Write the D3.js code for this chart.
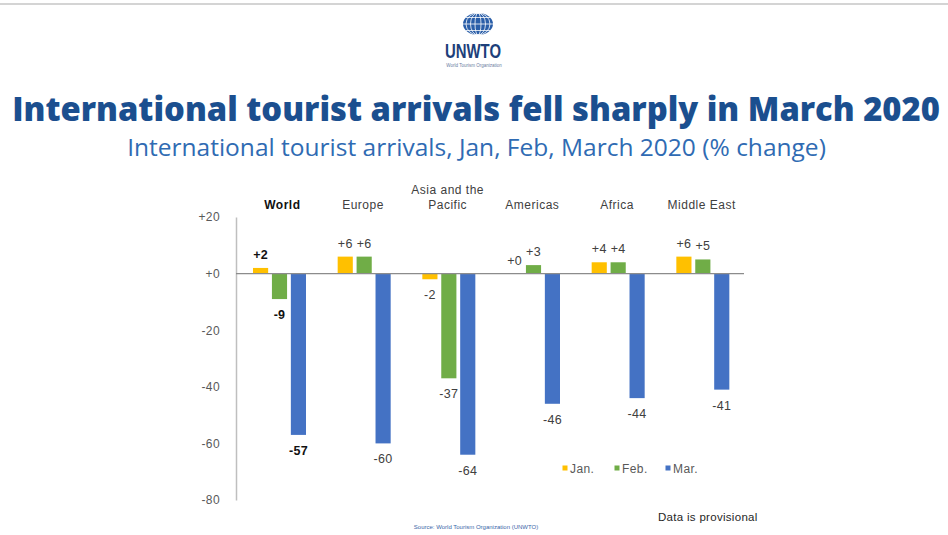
<!DOCTYPE html>
<html>
<head>
<meta charset="utf-8">
<script src="https://cdn.jsdelivr.net/npm/d3@7"></script>
<style>
  html, body { margin: 0; padding: 0; background: #fff; }
  svg { display: block; }
</style>
</head>
<body>
<svg id="chart" width="948" height="535"></svg>
<script>
// Regions and months
const regions = ["World", "Europe", "Asia and the Pacific", "Americas", "Africa", "Middle East"];
const regionLines = [["World"], ["Europe"], ["Asia and the", "Pacific"], ["Americas"], ["Africa"], ["Middle East"]];
const months = ["Jan.", "Feb.", "Mar."];
const monthColors = ["#FFC000", "#70AD47", "#4472C4"];

// % change in international tourist arrivals, 2020
const janValues = [2, 6, -2, 0, 4, 6];
const febValues = [-9, 6, -37, 3, 4, 5];
const marValues = [-57, -60, -64, -46, -44, -41];

const yTicks = [20, 0, -20, -40, -60, -80];

const seriesValues = [janValues, febValues, marValues];
const rows = [];
regions.forEach((r, i) => {
  months.forEach((m, j) => rows.push({ region: r, month: m, value: seriesValues[j][i], idx: i, series: j }));
});

const svg = d3.select("#chart");
const W = 948;

// thin border line at the top
svg.append("line").attr("x1", 0).attr("x2", W).attr("y1", 4).attr("y2", 4)
  .attr("stroke", "#d4d4d4").attr("stroke-width", 2);

// UNWTO logo: globe with grid, wordmark, tagline
const logo = svg.append("g");
const gx = 478, gy = 24;
logo.append("ellipse").attr("cx", gx).attr("cy", gy).attr("rx", 15).attr("ry", 11).attr("fill", "#2a5ea8");
[-6.5, 0, 6.5].forEach(dy => {
  const half = 15 * Math.sqrt(1 - (dy / 11) ** 2);
  logo.append("line").attr("x1", gx - half).attr("x2", gx + half)
    .attr("y1", gy + dy).attr("y2", gy + dy).attr("stroke", "#fff").attr("stroke-width", 0.8);
});
[3, 7.5, 12].forEach(rx => {
  logo.append("ellipse").attr("cx", gx).attr("cy", gy).attr("rx", rx).attr("ry", 11)
    .attr("fill", "none").attr("stroke", "#fff").attr("stroke-width", 0.8);
});
logo.append("text").attr("x", 445).attr("y", 58)
  .attr("textLength", 56).attr("lengthAdjust", "spacingAndGlyphs")
  .style("font-family", "Liberation Sans, Arial, sans-serif").style("font-weight", "bold")
  .style("font-size", "21px").attr("fill", "#1d3f7a").text("UNWTO");
logo.append("text").attr("x", 474).attr("y", 67).attr("text-anchor", "middle")
  .style("font-family", "Liberation Sans, Arial, sans-serif").style("font-size", "4.5px")
  .attr("fill", "#6a7da0").text("World Tourism Organization");

// Title and subtitle, fitted to their widths
function fitText(sel, width) {
  const w = sel.node().getComputedTextLength();
  const fs = parseFloat(sel.style("font-size"));
  sel.style("font-size", (fs * width / w) + "px");
}
const title = svg.append("text").attr("x", W / 2 + 2).attr("y", 121).attr("text-anchor", "middle")
  .style("font-family", "Open Sans, sans-serif").style("font-weight", "800").style("font-size", "28px")
  .attr("fill", "#1b4f8f").text("International tourist arrivals fell sharply in March 2020");
fitText(title, 928);
const subtitle = svg.append("text").attr("x", 476.5).attr("y", 156).attr("text-anchor", "middle")
  .style("font-family", "Open Sans, sans-serif").style("font-size", "21px")
  .attr("fill", "#2f6bb3").text("International tourist arrivals, Jan, Feb, March 2020 (% change)");
fitText(subtitle, 699);

// Scales
const x0 = d3.scaleBand().domain(regions).range([236, 744]).padding(0);
const x1 = d3.scaleBand().domain(months).range([17, 70]).paddingInner(0.2);
const y = d3.scaleLinear().domain([-80, 20]).range([500, 217]);
const color = d3.scaleOrdinal().domain(months).range(monthColors);

const font = "Liberation Sans, Arial, sans-serif";

// Y axis
const yAxis = svg.append("g").attr("transform", "translate(236,0)")
  .call(d3.axisLeft(y).tickValues(yTicks).tickSize(0).tickPadding(16)
    .tickFormat(d => (d >= 0 ? "+" : "") + d));
yAxis.select(".domain").attr("stroke", "#bfbfbf").attr("stroke-width", 1.5);
yAxis.selectAll("text").style("font-family", font).style("font-size", "12px")
  .style("letter-spacing", "0.4px").attr("fill", "#595959");

// Bars
svg.append("g").selectAll("rect").data(rows).join("rect")
  .attr("x", d => x0(d.region) + x1(d.month))
  .attr("width", x1.bandwidth())
  .attr("y", d => y(Math.max(0, d.value)))
  .attr("height", d => Math.abs(y(d.value) - y(0)))
  .attr("fill", d => color(d.month));

// Zero line
svg.append("line").attr("x1", x0.range()[0]).attr("x2", x0.range()[1])
  .attr("y1", y(0)).attr("y2", y(0)).attr("stroke", "#8c8c8c").attr("stroke-width", 1.2);

// Value labels
svg.append("g").selectAll("text").data(rows).join("text")
  .attr("x", d => x0(d.region) + x1(d.month) + x1.bandwidth() / 2)
  .attr("y", d => d.value >= 0 ? y(d.value) - 9 : y(d.value) + 20)
  .attr("text-anchor", "middle")
  .style("font-family", font).style("font-size", "12.5px").style("letter-spacing", "0.3px")
  .style("font-weight", d => d.idx === 0 ? "bold" : "normal")
  .attr("fill", d => d.idx === 0 ? "#111" : "#404040")
  .text(d => (d.value >= 0 ? "+" : "") + d.value);

// Region headers
const headX = (d, i) => x0(d) + x0.bandwidth() / 2 + (i === 0 ? 4 : 0);
const heads = svg.append("g").selectAll("text").data(regions).join("text")
  .attr("text-anchor", "middle")
  .style("font-family", font).style("font-size", "12px").style("letter-spacing", "0.5px")
  .style("font-weight", (d, i) => i === 0 ? "bold" : "normal")
  .attr("fill", (d, i) => i === 0 ? "#111" : "#404040");
heads.each(function (d, i) {
  const lines = regionLines[i];
  const t = d3.select(this);
  lines.forEach((ln, k) => {
    t.append("tspan").attr("x", headX(d, i))
      .attr("y", 209 - (lines.length - 1 - k) * 15).text(ln);
  });
});

// Legend
const legendX = [565, 617, 668];
const lg = svg.append("g").selectAll("g").data(months).join("g")
  .attr("transform", (d, i) => `translate(${legendX[i]},468)`);
lg.append("rect").attr("x", -2.5).attr("y", -2.5).attr("width", 5).attr("height", 5)
  .attr("fill", d => color(d));
lg.append("text").attr("x", 5).attr("y", 4.5)
  .style("font-family", font).style("font-size", "12px").style("letter-spacing", "0.4px")
  .attr("fill", "#595959").text(d => d);

// Notes
svg.append("text").attr("x", 658).attr("y", 521)
  .style("font-family", font).style("font-size", "11.5px").style("letter-spacing", "0.3px")
  .attr("fill", "#262626").text("Data is provisional");
svg.append("text").attr("x", 476).attr("y", 529).attr("text-anchor", "middle")
  .style("font-family", font).style("font-size", "6px").attr("fill", "#3a66a8")
  .text("Source: World Tourism Organization (UNWTO)");
</script>
</body>
</html>
